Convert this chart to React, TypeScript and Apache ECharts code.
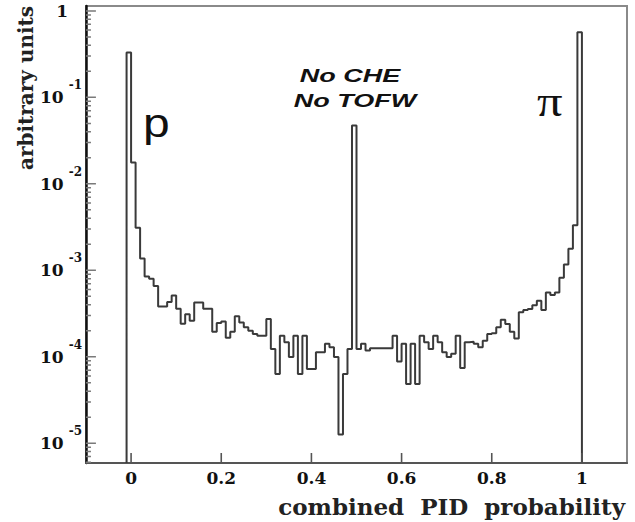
import React, { useEffect, useRef } from "react";
import * as echarts from "echarts";

const binStart = -0.01;
const binWidth = 0.01;
const binContents = [
  0.33, 0.0177, 3.11e-3, 1.37e-3, 8.5e-4, 8.0e-4, 6.6e-4, 3.8e-4, 3.8e-4, 4.3e-4,
  5.1e-4, 3.6e-4, 2.4e-4, 3.1e-4, 2.6e-4, 4.25e-4, 4.25e-4, 3.6e-4, 3.6e-4, 1.95e-4,
  2.45e-4, 2.55e-4, 1.66e-4, 1.95e-4, 2.93e-4, 2.49e-4, 2.19e-4, 2.0e-4, 1.83e-4, 1.75e-4,
  1.75e-4, 2.73e-4, 1.23e-4, 6.3e-5, 1.75e-4, 1.47e-4, 9.9e-5, 1.75e-4, 6.3e-5, 1.75e-4,
  7.2e-5, 7.2e-5, 1.13e-4, 1.13e-4, 1.41e-4, 1.29e-4, 9.9e-5, 1.26e-5, 6.3e-5, 1.23e-4,
  0.0472, 1.23e-4, 1.41e-4, 1.18e-4, 1.25e-4, 1.25e-4, 1.25e-4, 1.25e-4, 1.25e-4, 1.75e-4,
  8.8e-5, 1.41e-4, 4.85e-5, 1.41e-4, 4.85e-5, 1.75e-4, 1.47e-4, 1.23e-4, 1.75e-4, 1.47e-4,
  1.13e-4, 9.9e-5, 1.08e-4, 1.75e-4, 7.4e-5, 1.47e-4, 1.49e-4, 1.41e-4, 1.29e-4, 1.53e-4,
  1.83e-4, 1.87e-4, 2.19e-4, 2.68e-4, 2.39e-4, 1.95e-4, 1.63e-4, 3.26e-4, 3.47e-4, 3.56e-4,
  3.95e-4, 4.45e-4, 3.47e-4, 5.55e-4, 5.16e-4, 5.55e-4, 8.2e-4, 1.17e-3, 1.78e-3, 3.31e-3,
  0.568,
];

const xMin = -0.1;
const xMax = 1.1;
const xTicks = [0, 0.2, 0.4, 0.6, 0.8, 1];
const yMin = 5.9e-6;
const yMax = 1.14;
const yDecades = [-5, -4, -3, -2, -1, 0];
const minorMantissas = [2, 3, 4, 5, 6, 7, 8, 9];

const xTitle = "combined  PID  probability";
const yTitle = "arbitrary units";
const labelP = "p";
const labelPi = "π";
const noteLines = ["No CHE", "No TOFW"];

export default function App() {
  const ref = useRef<HTMLDivElement>(null);

  useEffect(() => {
    if (!ref.current) return;
    const chart = echarts.init(ref.current, null, { renderer: "svg" });
    const lmin = Math.log10(yMin);
    const lmax = Math.log10(yMax);

    const pts: number[][] = [[binStart, lmin]];
    binContents.forEach((c, i) => pts.push([binStart + i * binWidth, Math.log10(c)]));
    pts.push([binStart + binContents.length * binWidth, lmin]);

    // tick segments as line series in data space: [x, y] pairs separated by nulls
    const yTickLenMajor = 0.022; // in x data units (~10px)
    const yTickLenMinor = 0.011;
    const tickPts: (number[] | null)[] = [];
    yDecades.forEach((d) => {
      tickPts.push([xMin, d], [xMin + yTickLenMajor, d], null);
    });
    for (let k = -7; k <= 0; k++) {
      minorMantissas.forEach((m) => {
        const v = k + Math.log10(m);
        if (v > lmin && v < lmax) tickPts.push([xMin, v], [xMin + yTickLenMinor, v], null);
      });
    }
    const xTickLen = (lmax - lmin) * (10 / 457);
    const xTickPts: (number[] | null)[] = [];
    xTicks.forEach((t) => xTickPts.push([t, lmin], [t, lmin + xTickLen], null));

    const serifBold = "DejaVu Serif";

    chart.setOption({
      animation: false,
      backgroundColor: "#ffffff",
      grid: {
        left: 86,
        top: 6,
        right: 8,
        bottom: 59,
        show: true,
        borderColor: "#8a8a8a",
        borderWidth: 2,
        backgroundColor: "transparent",
      },
      xAxis: {
        type: "value",
        min: xMin,
        max: xMax,
        axisLine: { show: true, onZero: false, lineStyle: { color: "#555", width: 2 } },
        axisTick: { show: false },
        axisLabel: {
          customValues: xTicks,
          formatter: (v: number) => (v === 0 || v === 1 ? String(v) : v.toFixed(1)),
          fontFamily: serifBold,
          fontWeight: "bold",
          fontSize: 17,
          color: "#111",
          margin: 6,
        },
        splitLine: { show: false },
      },
      yAxis: {
        type: "value",
        min: lmin,
        max: lmax,
        axisLine: { show: true, onZero: false, lineStyle: { color: "#111", width: 2.5 } },
        axisTick: { show: false },
        axisLabel: {
          customValues: yDecades,
          margin: 4,
          formatter: (v: number) =>
            v === 0 ? "{b|1}{g|}" : "{b|10}{s|" + String(v) + "}",
          rich: {
            b: { fontFamily: serifBold, fontWeight: "bold", fontSize: 17, color: "#111" },
            s: {
              fontFamily: serifBold,
              fontWeight: "bold",
              fontSize: 12,
              color: "#111",
              padding: [0, 0, 24, 5],
            },
            g: { width: 14 },
          },
        },
        splitLine: { show: false },
      },
      series: [
        {
          type: "line",
          name: "yTicks",
          data: tickPts,
          connectNulls: false,
          symbol: "none",
          silent: true,
          lineStyle: { color: "#7a7a7a", width: 1.5 },
          z: 4,
        },
        {
          type: "line",
          name: "xTicks",
          data: xTickPts,
          connectNulls: false,
          symbol: "none",
          silent: true,
          lineStyle: { color: "#555555", width: 1.6 },
          z: 4,
        },
        {
          type: "line",
          step: "end",
          data: pts,
          symbol: "none",
          lineStyle: { color: "#3a3a3a", width: 2 },
          clip: true,
          z: 3,
        },
      ],
      graphic: [
        {
          type: "text",
          x: 26,
          y: 88,
          rotation: Math.PI / 2,
          style: {
            text: yTitle,
            font: "bold 20px 'DejaVu Serif'",
            fill: "#222",
            textAlign: "center",
            textVerticalAlign: "middle",
          },
        },
        {
          type: "text",
          x: 625,
          y: 506,
          style: {
            text: xTitle,
            font: "bold 23px 'DejaVu Serif'",
            fill: "#222",
            textAlign: "right",
            textVerticalAlign: "middle",
          },
        },
        {
          type: "text",
          x: 143,
          y: 103,
          scaleX: 1.2,
          style: {
            text: labelP,
            font: "40px 'Liberation Sans'",
            fill: "#111",
            textAlign: "left",
            textVerticalAlign: "alphabetic",
          },
        },
        {
          type: "text",
          x: 537,
          y: 79,
          scaleX: 1.15,
          style: {
            text: labelPi,
            font: "44px 'Liberation Serif'",
            fill: "#111",
            textAlign: "left",
            textVerticalAlign: "alphabetic",
          },
        },
        {
          type: "text",
          x: 350,
          y: 76,
          scaleX: 1.5,
          style: {
            text: noteLines[0],
            font: "italic bold 18px 'Liberation Sans'",
            fill: "#111",
            textAlign: "center",
            textVerticalAlign: "middle",
          },
        },
        {
          type: "text",
          x: 355,
          y: 101,
          scaleX: 1.5,
          style: {
            text: noteLines[1],
            font: "italic bold 18px 'Liberation Sans'",
            fill: "#111",
            textAlign: "center",
            textVerticalAlign: "middle",
          },
        },
      ],
    });

    return () => chart.dispose();
  }, []);

  return (
    <div
      ref={ref}
      style={{ position: "absolute", left: 0, top: 0, width: 635, height: 522 }}
    />
  );
}
